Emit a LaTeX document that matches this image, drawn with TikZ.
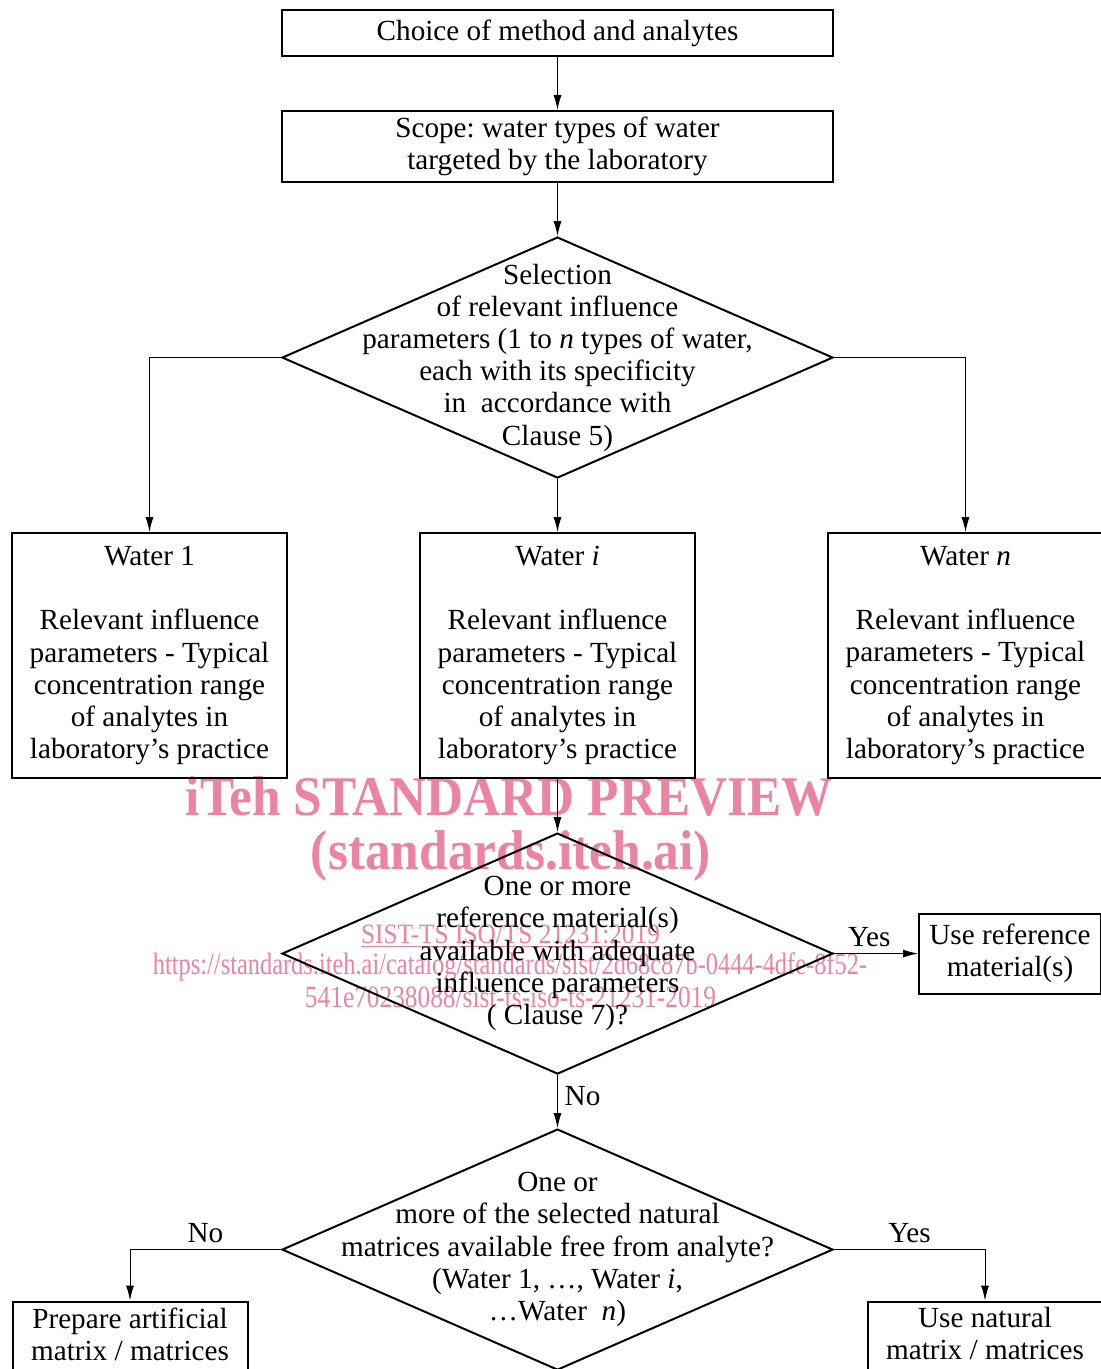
\documentclass[tikz,border=0pt]{standalone}
\usepackage{fontspec}
\setmainfont{Liberation Serif}
\usepackage{graphicx}
\usepackage{xcolor}
\usetikzlibrary{shapes.geometric,arrows.meta,positioning}

\definecolor{wmpink}{RGB}{234,132,162}
\frenchspacing

\begin{document}
\begin{tikzpicture}[x=0.5pt,y=-0.5pt,node distance=26.5pt,
    font=\fontsize{14.6}{16.1}\selectfont,>={Latex[length=7.5pt,width=4pt]}]
  \tikzstyle{block}=[draw,line width=1pt,align=center,inner sep=3pt,minimum width=275.5pt]
  \tikzstyle{decision}=[draw,diamond,line width=1pt,inner sep=0pt,minimum width=275.5pt,minimum height=120.5pt]
  \tikzstyle{dtext}=[align=center,inner sep=0pt]
  \tikzstyle{water}=[block,minimum width=137.5pt,minimum height=122.5pt]
  \tikzstyle{result}=[block,minimum width=117.5pt]
  \tikzstyle{wmark}=[text=wmpink,inner sep=0pt]
  \tikzstyle{link}=[->,line width=0.5pt]
  \path[use as bounding box,fill=white] (0,0) rectangle (1100,1369);

  % watermark, behind everything
  \node[wmark,font=\bfseries\fontsize{28}{30}\selectfont] (wm1) at (509.5,796)
    {\resizebox{323.5pt}{\height}{iTeh STANDARD PREVIEW}};
  \node[wmark,font=\bfseries\fontsize{28}{30}\selectfont] (wm2) at (511,856)
    {\resizebox{200pt}{\height}{(standards.iteh.ai)}};
  \node[wmark,font=\fontsize{14}{16}\selectfont] (wm3) at (510.5,936)
    {\resizebox{149.5pt}{\height}{\underline{SIST-TS ISO/TS 21231:2019}}};
  \node[wmark,font=\fontsize{15.5}{17}\selectfont] (wm4) at (510,967)
    {\resizebox{357pt}{\height}{https://standards.iteh.ai/catalog/standards/sist/2d68c87b-0444-4dfe-8f52-}};
  \node[wmark,font=\fontsize{15.5}{17}\selectfont] (wm5) at (510.5,997)
    {\resizebox{205.5pt}{\height}{541e70238088/sist-ts-iso-ts-21231-2019}};

  \node[block,minimum height=23pt] (choice) at (557.5,33) {Choice of method and analytes};
  \node[block,minimum height=35.5pt,below=of choice] (scope)
    {Scope: water types of water\\targeted by the laboratory};
  \node[decision,below=of scope] (select) {};
  \node[dtext] (select-txt) at (select)
    {Selection\\of relevant influence\\parameters (1 to \textit{n} types of water,\\each with its specificity\\in~ accordance with\\Clause 5)};

  \node[water,below=of select] (wi)
    {Water \textit{i}\\[16.1pt]Relevant influence\\parameters - Typical\\concentration range\\of analytes in\\laboratory's practice};
  \node[water,left=65.5pt of wi] (w1)
    {Water 1\\[16.1pt]Relevant influence\\parameters - Typical\\concentration range\\of analytes in\\laboratory's practice};
  \node[water,right=65.5pt of wi] (wn)
    {Water \textit{n}\\[16.1pt]Relevant influence\\parameters - Typical\\concentration range\\of analytes in\\laboratory's practice};

  \node[decision,below=of wi] (refq) {};
  \node[dtext] (refq-txt) at (refq)
    {One or more\\reference material(s)\\available with adequate\\influence parameters\\( Clause 7)?};
  \node[block,minimum width=91pt,minimum height=40pt,right=42pt of refq] (useref)
    {Use reference\\material(s)};

  \node[decision,below=of refq] (natq) {};
  \node[dtext] (natq-txt) at (natq)
    {One or\\more of the selected natural\\matrices available free from analyte?\\(Water 1, \ldots, Water \textit{i},\\\ldots Water~ \textit{n})};
  \node[result,anchor=north,text depth=12pt] (artif) at (130,1300.5)
    {Prepare artificial\\matrix / matrices};
  \node[result,anchor=north,text depth=12pt] (usenat) at (985,1300.5)
    {Use natural\\matrix / matrices};

  \path[link]
  (choice) edge (scope)
  (scope) edge (select)
  (select) edge (wi)
  (wi) edge (refq)
  (refq) edge node[above,pos=0.42] {Yes} (useref)
  (refq) edge node[right,pos=0.4] {No} (natq)
  ;
  \draw[link] (select.west) -| (w1);
  \draw[link] (select.east) -| (wn);
  \draw[link] (natq.west) -| node[above,pos=0.25] {No} (artif);
  \draw[link] (natq.east) -| node[above,pos=0.25] {Yes} (usenat);
\end{tikzpicture}
\end{document}
